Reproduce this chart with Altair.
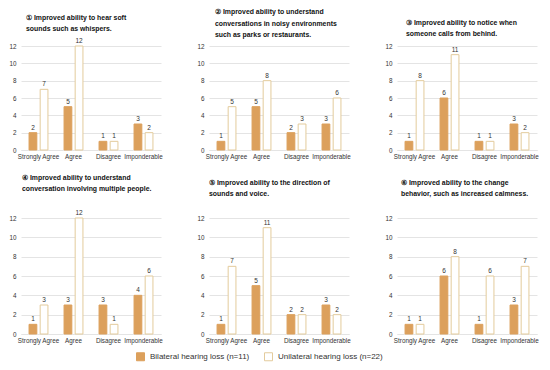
import altair as alt
import pandas as pd

categories = ["Strongly Agree", "Agree", "Disagree", "Imponderable"]
series = ["Bilateral hearing loss (n=11)", "Unilateral hearing loss (n=22)"]

q1_bilateral = [2, 5, 1, 3]
q1_unilateral = [7, 12, 1, 2]
q2_bilateral = [1, 5, 2, 3]
q2_unilateral = [5, 8, 3, 6]
q3_bilateral = [1, 6, 1, 3]
q3_unilateral = [8, 11, 1, 2]
q4_bilateral = [1, 3, 3, 4]
q4_unilateral = [3, 12, 1, 6]
q5_bilateral = [1, 5, 2, 3]
q5_unilateral = [7, 11, 2, 2]
q6_bilateral = [1, 6, 1, 3]
q6_unilateral = [1, 8, 6, 7]

titles = [
    ["\u2460  Improved ability to hear soft", "sounds such as whispers."],
    ["\u2461  Improved ability to understand", "conversations in noisy environments", "such as parks or restaurants."],
    ["\u2462  Improved ability to notice when", "someone calls from behind."],
    ["\u2463  Improved ability to understand", "conversation involving multiple people."],
    ["\u2464  Improved ability to the direction of", "sounds and voice."],
    ["\u2465  Improved ability to the change", "behavior, such as increased calmness."],
]

panel_data = [
    (q1_bilateral, q1_unilateral),
    (q2_bilateral, q2_unilateral),
    (q3_bilateral, q3_unilateral),
    (q4_bilateral, q4_unilateral),
    (q5_bilateral, q5_unilateral),
    (q6_bilateral, q6_unilateral),
]

BIL = "#DCA05C"
UNI_STROKE = "#E3CB9C"
TEXT = "#333333"
GRID = "#E4E4E4"

title_dx = [5, 6, 9, 1, 0, 4]
title_offset = [5, 4, 5, 17, 17, 17]
heights = [104, 104, 104, 116, 116, 116]


def panel(i):
    b, u = panel_data[i]
    rows = []
    for c, v in zip(categories, b):
        rows.append({"category": c, "series": series[0], "value": v})
    for c, v in zip(categories, u):
        rows.append({"category": c, "series": series[1], "value": v})
    df = pd.DataFrame(rows)
    base = alt.Chart(df).encode(
        x=alt.X(
            "category:N",
            sort=categories,
            title=None,
            scale=alt.Scale(paddingInner=0.46, paddingOuter=0.23),
            axis=alt.Axis(labelAngle=0, ticks=False, domain=True, domainColor=GRID,
                          labelFontSize=6.3, labelColor=TEXT, labelPadding=3),
        ),
        xOffset=alt.XOffset("series:N", sort=series, scale=alt.Scale(paddingInner=0.3)),
        y=alt.Y(
            "value:Q",
            title=None,
            scale=alt.Scale(domain=[0, 12]),
            axis=alt.Axis(values=[0, 2, 4, 6, 8, 10, 12], domain=False, ticks=False,
                          gridColor=GRID, labelFontSize=6.3, labelColor=TEXT, labelPadding=5),
        ),
    )
    bars = base.mark_bar(strokeWidth=1).encode(
        fill=alt.Fill("series:N", sort=series,
                      scale=alt.Scale(domain=series, range=[BIL, "#FFFFFF"]),
                      legend=alt.Legend(title=None)),
        stroke=alt.Stroke("series:N", sort=series,
                          scale=alt.Scale(domain=series, range=[BIL, UNI_STROKE]),
                          legend=alt.Legend(title=None)),
    )
    labels = base.mark_text(dy=-5, fontSize=6.5, color=TEXT).encode(text="value:Q")
    return alt.layer(bars, labels).properties(
        width=140,
        height=heights[i],
        title=alt.TitleParams(
            text=titles[i], anchor="start", frame="group", fontSize=6.9,
            fontWeight="bold", color="#111111", lineHeight=11.5,
            dx=title_dx[i], offset=title_offset[i],
        ),
    )


chart = alt.concat(
    *[panel(i) for i in range(6)],
    columns=3,
    bounds="flush",
    spacing=alt.RowColnumber(row=68, column=48),
).resolve_scale(
    fill="shared", stroke="shared"
).configure(
    font="Liberation Sans", padding=0
).configure_view(
    stroke=None
).configure_legend(
    orient="none", legendX=115, legendY=306, direction="horizontal",
    symbolType="square", symbolSize=64, symbolStrokeWidth=1,
    labelFontSize=8, labelColor=TEXT, columnPadding=12, labelOffset=5,
)

chart.save("out.html", embed_options={"renderer": "svg", "actions": False})
